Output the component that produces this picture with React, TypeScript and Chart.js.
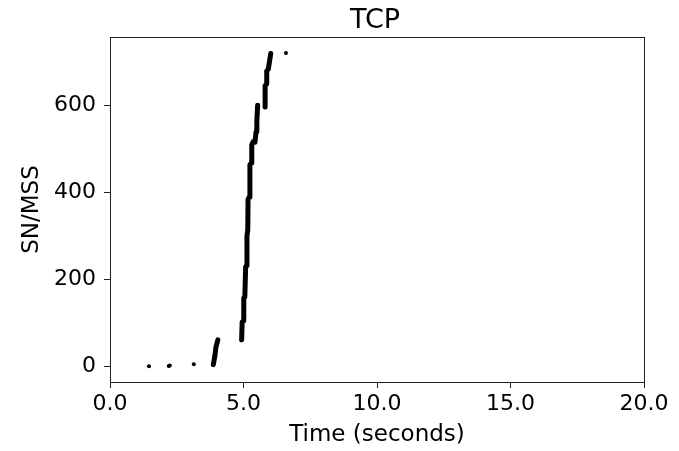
import React, { useEffect, useRef } from "react";
import { Chart, registerables } from "chart.js";

Chart.register(...registerables);

// Isolated single packets [time (s), SN/MSS]
const lonePackets: [number, number][] = [
  [1.46, 0],
  [2.2, 1],
  [2.24, 2],
  [3.14, 5],
  [6.59, 721],
];

// Bursts of packets [time (s), SN/MSS]
const burstA: [number, number][] = [
  [3.87, 4],
  [3.93, 25],
  [3.97, 45],
  [4.04, 61],
];
const burstB: [number, number][] = [
  [4.93, 61],
  [4.95, 102],
  [4.99, 105],
  [5.01, 157],
  [5.05, 160],
  [5.08, 229],
  [5.11, 232],
  [5.13, 300],
  [5.16, 314],
  [5.17, 384],
  [5.22, 390],
  [5.24, 464],
  [5.29, 468],
  [5.31, 510],
  [5.36, 517],
];
const burstC: [number, number][] = [
  [5.43, 516],
  [5.47, 540],
  [5.5, 565],
  [5.53, 601],
];
const burstD: [number, number][] = [
  [5.81, 597],
  [5.81, 646],
  [5.87, 650],
  [5.87, 680],
  [5.93, 684],
  [5.97, 700],
  [6.02, 720],
];

const xTicks = [0, 5, 10, 15, 20];
const yTicks = [0, 200, 400, 600];

const FONT = "'DejaVu Sans', sans-serif";

export default function App() {
  const ref = useRef<HTMLCanvasElement | null>(null);

  useEffect(() => {
    document.body.style.margin = "0";
    const canvas = ref.current;
    if (!canvas) return;

    const bursts = [burstA, burstB, burstC, burstD];
    const lineData: { x: number; y: number | null }[] = [];
    bursts.forEach((b, i) => {
      if (i > 0) lineData.push({ x: b[0][0], y: null });
      b.forEach(([x, y]) => lineData.push({ x, y }));
    });

    const frame = {
      id: "frame",
      afterDraw(chart: any) {
        const { ctx, chartArea } = chart;
        ctx.save();
        ctx.strokeStyle = "#222";
        ctx.lineWidth = 1;
        ctx.strokeRect(
          Math.round(chartArea.left) + 0.5,
          Math.round(chartArea.top) + 0.5,
          Math.round(chartArea.right - chartArea.left),
          Math.round(chartArea.bottom - chartArea.top)
        );
        ctx.fillStyle = "#000";
        ctx.font = `27px ${FONT}`;
        ctx.textAlign = "center";
        ctx.textBaseline = "alphabetic";
        ctx.fillText("TCP", (chartArea.left + chartArea.right) / 2 - 2, 28);
        ctx.restore();
      },
    };

    const chart = new Chart(canvas, {
      type: "scatter",
      data: {
        datasets: [
          {
            data: lineData as any,
            showLine: true,
            spanGaps: false,
            borderColor: "#000",
            backgroundColor: "#000",
            borderWidth: 5,
            borderCapStyle: "round",
            borderJoinStyle: "round",
            pointRadius: 0,
          },
          {
            data: lonePackets.map(([x, y]) => ({ x, y })),
            showLine: false,
            borderColor: "#000",
            backgroundColor: "#000",
            pointRadius: 2,
            borderWidth: 0,
          },
        ],
      },
      options: {
        animation: false,
        responsive: false,
        events: [],
        layout: { padding: { top: 37, right: 35, left: 0, bottom: 0 } },
        plugins: {
          legend: { display: false },
          tooltip: { enabled: false },
          title: { display: false },
        },
        scales: {
          x: {
            type: "linear",
            min: 0,
            max: 20,
            afterBuildTicks: (s: any) => {
              s.ticks = xTicks.map((v) => ({ value: v }));
            },
            afterFit: (s: any) => {
              s.height = 69;
            },
            ticks: {
              color: "#000",
              font: { family: FONT, size: 22 },
              padding: 3,
              maxRotation: 0,
              autoSkip: false,
              callback: (v: any) => Number(v).toFixed(1),
            },
            grid: {
              drawOnChartArea: false,
              drawTicks: true,
              tickLength: 6,
              color: "#222",
            },
            border: { display: true, color: "#222", width: 1 },
            title: {
              display: true,
              text: "Time (seconds)",
              color: "#000",
              font: { family: FONT, size: 23 },
              padding: { top: 0, bottom: 2 },
            },
          },
          y: {
            type: "linear",
            min: -36,
            max: 758,
            afterBuildTicks: (s: any) => {
              s.ticks = yTicks.map((v) => ({ value: v }));
            },
            afterFit: (s: any) => {
              s.width = 110;
            },
            ticks: {
              color: "#000",
              font: { family: FONT, size: 22 },
              padding: 8,
              autoSkip: false,
              callback: (v: any) => String(v),
            },
            grid: {
              drawOnChartArea: false,
              drawTicks: true,
              tickLength: 6,
              color: "#222",
            },
            border: { display: true, color: "#222", width: 1 },
            title: {
              display: true,
              text: "SN/MSS",
              color: "#000",
              font: { family: FONT, size: 23 },
              padding: { top: 18, bottom: 0 },
            },
          },
        },
      },
      plugins: [frame],
    });

    return () => chart.destroy();
  }, []);

  return (
    <canvas
      ref={ref}
      width={679}
      height={451}
      style={{ display: "block", width: 679, height: 451 }}
    />
  );
}
